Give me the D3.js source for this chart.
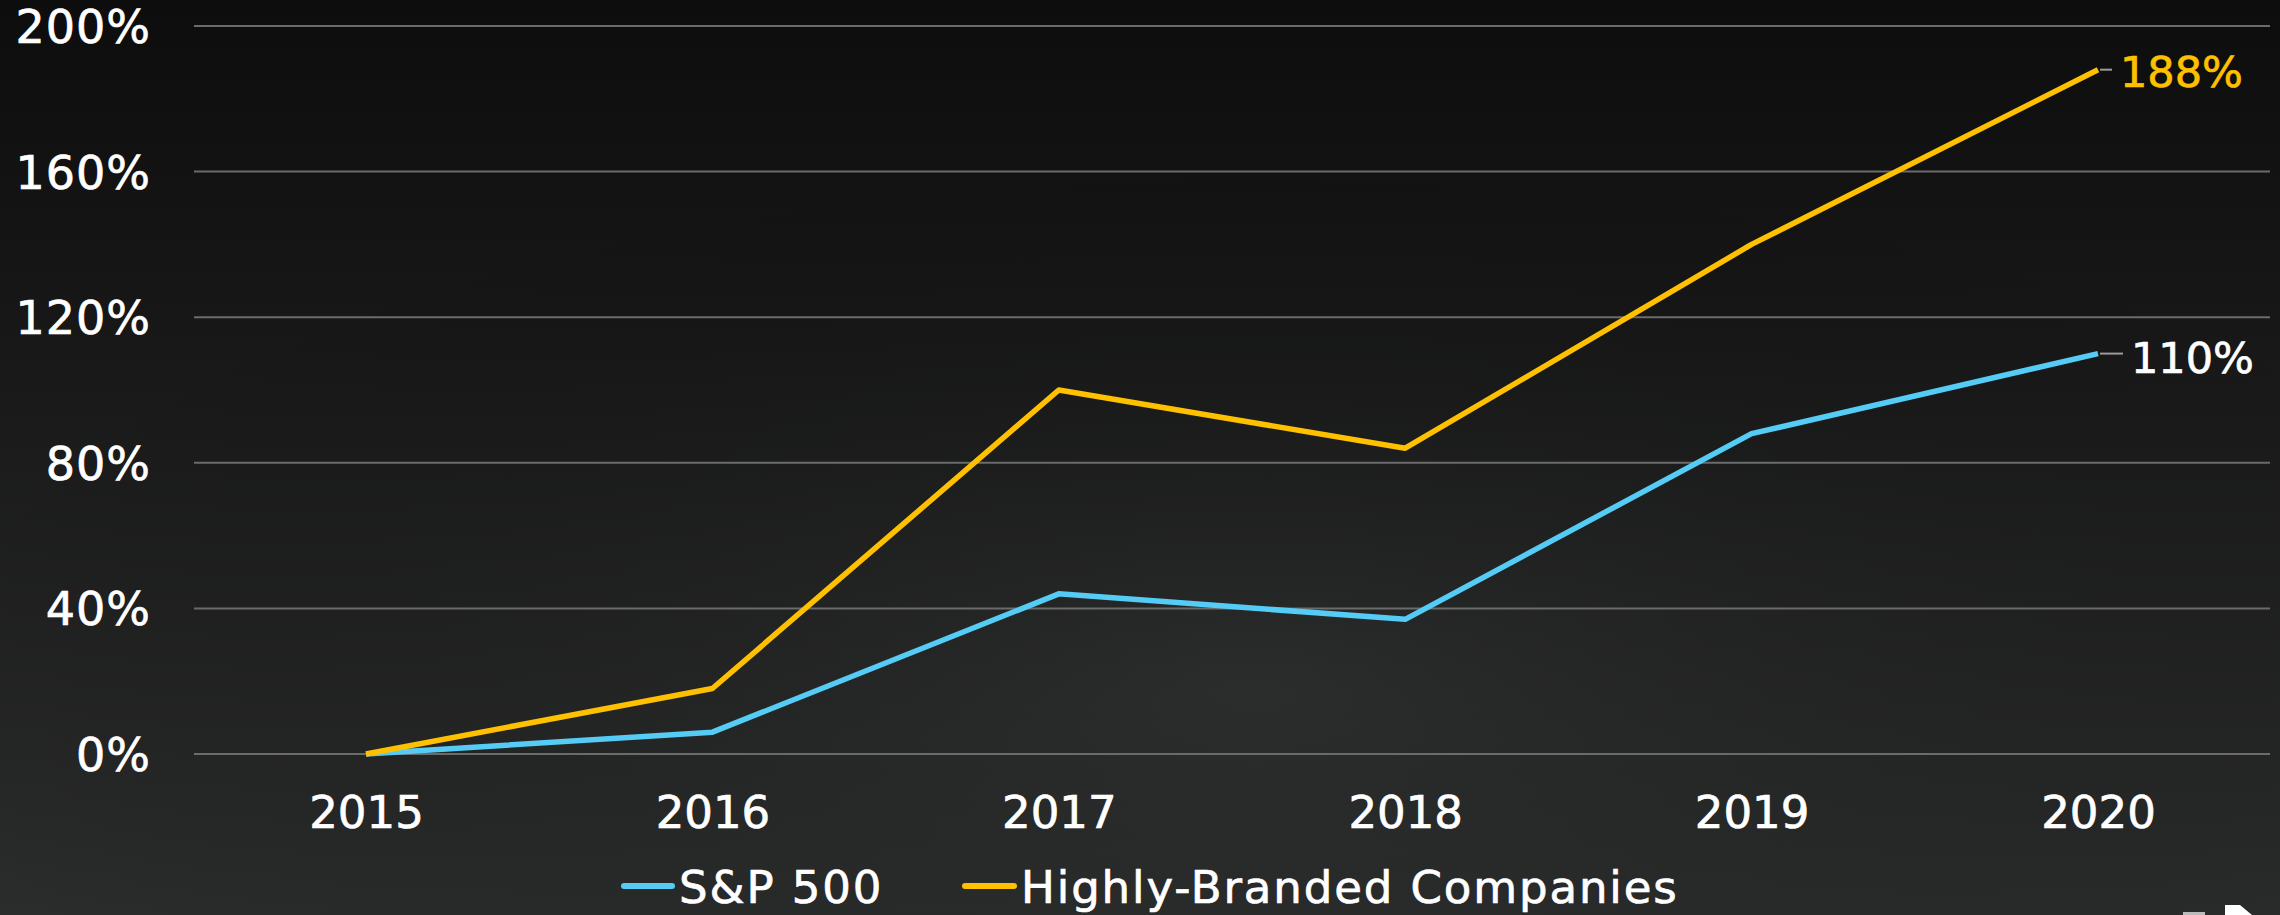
<!DOCTYPE html>
<html><head><meta charset="utf-8">
<script src="https://cdn.jsdelivr.net/npm/d3@7"></script>
<style>html,body{margin:0;padding:0;background:#111;overflow:hidden}</style>
</head><body>
<svg id="c" width="2280" height="915"></svg>
<script>
const years = ["2015","2016","2017","2018","2019","2020"];
const sp500 = [0, 6, 44, 37, 88, 110];
const branded = [0, 18, 100, 84, 140, 188];
const yTicks = [0, 40, 80, 120, 160, 200];
const seriesNames = ["S&P 500", "Highly-Branded Companies"];
const seriesColors = ["#55CCF5", "#FFC000"];
const endLabelColors = ["#FFFFFF", "#FFC000"];

const W = 2280, H = 915;
const svg = d3.select("#c");
const defs = svg.append("defs");
const lg = defs.append("linearGradient").attr("id","bg").attr("x1",0).attr("y1",0).attr("x2",0).attr("y2",1);
lg.append("stop").attr("offset","0%").attr("stop-color","#0d0d0d");
lg.append("stop").attr("offset","35%").attr("stop-color","#171717");
lg.append("stop").attr("offset","100%").attr("stop-color","#2b2c2c");
const rg = defs.append("radialGradient").attr("id","glow").attr("cx","0.55").attr("cy","0.75").attr("r","0.6");
rg.append("stop").attr("offset","0%").attr("stop-color","#3a3d3d").attr("stop-opacity",0.35);
rg.append("stop").attr("offset","100%").attr("stop-color","#000").attr("stop-opacity",0);
svg.append("rect").attr("width",W).attr("height",H).attr("fill","url(#bg)");
svg.append("rect").attr("width",W).attr("height",H).attr("fill","url(#glow)");

const font = "'DejaVu Sans', sans-serif";
const x = d3.scalePoint().domain(years).range([366, 2098]);
const y = d3.scaleLinear().domain([0, 200]).range([754, 26]);
const gridX0 = 194, gridX1 = 2270;

function styleText(sel, size, color, ls){
  sel.attr("fill",color).attr("font-family",font).attr("font-size",size)
     .attr("stroke",color).attr("stroke-width",0.7).attr("letter-spacing",ls||0);
}

// grid
const yAxis = d3.axisLeft(y).tickValues(yTicks).tickFormat(d => d + "%").tickSize(0).tickPadding(0);
const gy = svg.append("g").attr("transform", `translate(151,0)`).call(yAxis);
gy.select(".domain").remove();
styleText(gy.selectAll("text").attr("dy","0.36em"), 46, "#fff", 1);
svg.append("g").selectAll("line").data(yTicks).join("line")
  .attr("x1",gridX0).attr("x2",gridX1).attr("y1",d=>y(d)).attr("y2",d=>y(d))
  .attr("stroke","#6b6b6b").attr("stroke-width",2);

// x axis labels
const xAxis = d3.axisBottom(x).tickSize(0).tickPadding(0);
const gx = svg.append("g").attr("transform","translate(0,812)").call(xAxis);
gx.select(".domain").remove();
styleText(gx.selectAll("text").attr("dy","0.36em"), 45, "#fff", 0);

// lines
const line = d3.line().x((d,i)=>x(years[i])).y(d=>y(d));
[sp500, branded].forEach((s,k)=>{
  svg.append("path").datum(s).attr("d",line).attr("fill","none")
    .attr("stroke",seriesColors[k]).attr("stroke-width",5.5).attr("stroke-linejoin","round");
});

// end labels
const lastX = x(years[years.length-1]);
[[sp500,0,25],[branded,1,14]].forEach(([s,k,len])=>{
  const v = s[s.length-1];
  svg.append("line").attr("x1",lastX+2).attr("x2",lastX+len).attr("y1",y(v)).attr("y2",y(v))
    .attr("stroke","#9a9a9a").attr("stroke-width",2);
  styleText(svg.append("text").attr("x",lastX+len+8).attr("y",y(v)+ (k===0?4:2)).attr("dy","0.36em")
    .text(v+"%"), 43, endLabelColors[k], 0);
});

// legend
const legendItems = [{x:621, w:54}, {x:962, w:55}];
seriesNames.forEach((n,k)=>{
  const it = legendItems[k];
  svg.append("line").attr("x1",it.x+3).attr("x2",it.x+it.w-3).attr("y1",886).attr("y2",886)
    .attr("stroke",seriesColors[k]).attr("stroke-width",6).attr("stroke-linecap","round");
  styleText(svg.append("text").attr("x",it.x+it.w+4).attr("y",887).attr("dy","0.36em").text(n),
    45, "#fff", 1.9);
});

// partial logo fragment bottom-right
svg.append("path").attr("d","M2225,905 L2240,905 L2252,915 L2225,915 Z").attr("fill","#fff");
svg.append("rect").attr("x",2183).attr("y",912).attr("width",22).attr("height",3).attr("fill","#bbb");
</script>
</body></html>
